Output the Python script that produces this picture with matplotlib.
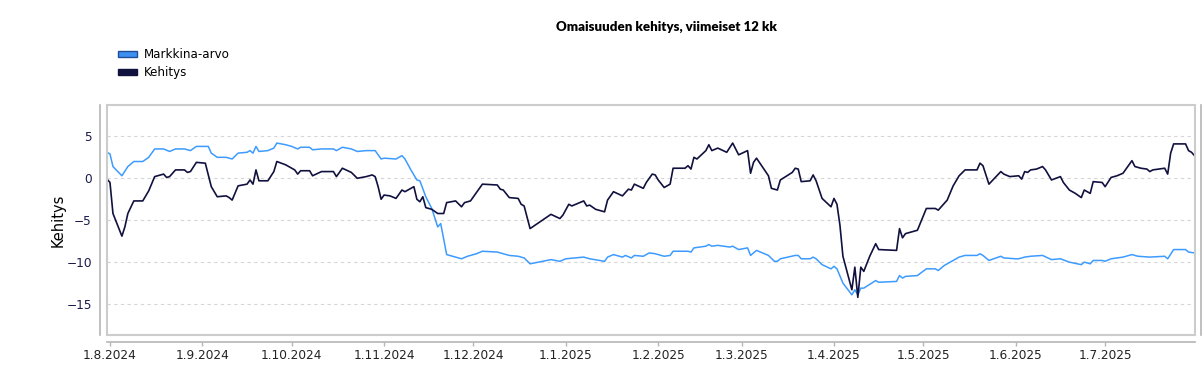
import matplotlib
matplotlib.use("Agg")
import matplotlib.pyplot as plt
import matplotlib.dates as mdates
from matplotlib.patches import Patch, Rectangle
import pandas as pd

# Aikasarjat: päivät laskettu alkupäivästä 1.8.2024, arvot kuvasta luettuna
alkupaiva = "2024-08-01"

kehitys_paivat = [-1, 0, 1, 4, 5, 6, 8, 11, 13, 15,
                  18, 19, 20, 22, 25, 26, 27, 29, 32, 34,
                  36, 39, 40, 41, 43, 46, 47, 48, 49, 50,
                  53, 55, 56, 59, 61, 62, 63, 64, 67, 68,
                  71, 75, 76, 78, 81, 83, 86, 88, 89, 90,
                  91, 92, 94, 96, 98, 99, 102, 103, 104, 105,
                  106, 108, 110, 112, 113, 116, 118, 119, 121, 123,
                  125, 130, 131, 132, 134, 137, 138, 139, 141, 148,
                  151, 152, 154, 155, 159, 160, 161, 163, 166, 167,
                  169, 172, 174, 175, 176, 179, 180, 182, 183, 184,
                  186, 188, 189, 193, 194, 195, 196, 197, 200, 201,
                  202, 204, 207, 209, 211, 214, 215, 216, 217, 221,
                  222, 224, 225, 229, 230, 231, 232, 235, 236, 237,
                  239, 242, 243, 244, 245, 246, 249, 250, 251, 252,
                  253, 255, 257, 258, 264, 265, 266, 267, 271, 274,
                  277, 278, 281, 283, 285, 287, 291, 292, 293, 295,
                  299, 300, 302, 305, 306, 307, 308, 309, 311, 313,
                  314, 316, 319, 320, 322, 324, 326, 327, 329, 330,
                  333, 334, 336, 338, 340, 341, 343, 344, 346, 348,
                  349, 350, 354, 355, 356, 357, 361, 362, 363, 364]
kehitys_arvot = [-0.1, -0.5, -4.2, -6.9, -5.8, -4.2, -2.7, -2.7, -1.5, 0.2,
                 0.5, 0.1, 0.2, 1.0, 1.0, 0.7, 0.8, 1.9, 1.8, -1.0,
                 -2.2, -2.1, -2.3, -2.6, -0.9, -0.7, -0.2, -0.7, 1.0, -0.3,
                 -0.3, 0.8, 2.0, 1.6, 1.2, 1.0, 0.5, 0.9, 0.9, 0.3,
                 0.8, 0.8, 0.2, 1.2, 0.7, 0.0, 0.2, 0.4, 0.2, -1.0,
                 -2.5, -2.0, -2.1, -2.4, -1.4, -1.6, -1.0, -2.5, -2.8, -2.2,
                 -3.5, -3.7, -4.2, -4.2, -2.9, -2.7, -3.4, -2.9, -2.7, -1.7,
                 -0.7, -0.8, -1.3, -1.4, -2.3, -2.4, -3.1, -3.3, -6.0, -4.3,
                 -4.8, -4.4, -3.1, -3.3, -2.7, -3.3, -3.2, -3.7, -4.0, -2.6,
                 -1.6, -2.1, -1.3, -1.4, -0.7, -1.2, -0.5, 0.5, 0.4, -0.2,
                 -1.1, -0.7, 1.2, 1.2, 1.5, 1.1, 2.5, 2.3, 3.3, 4.0,
                 3.3, 3.6, 3.1, 4.2, 2.8, 3.3, 0.6, 1.9, 2.4, 0.3,
                 -1.2, -1.4, -0.2, 0.7, 1.2, 1.1, -0.4, -0.3, 0.4, -0.3,
                 -2.4, -3.4, -2.4, -3.1, -5.6, -9.3, -13.3, -10.6, -14.2, -10.6,
                 -11.1, -9.3, -7.8, -8.5, -8.6, -6.0, -7.1, -6.6, -6.2, -3.6,
                 -3.6, -3.8, -2.6, -0.9, 0.3, 1.0, 1.0, 1.8, 1.5, -0.7,
                 0.8, 0.5, 0.2, 0.3, -0.1, 0.8, 0.7, 1.0, 1.1, 1.4,
                 1.0, -0.2, 0.2, -0.5, -1.4, -1.8, -2.3, -1.4, -1.8, -0.4,
                 -0.5, -1.0, 0.1, 0.3, 0.6, 1.1, 2.1, 1.4, 1.2, 1.1,
                 0.8, 1.0, 1.2, 0.5, 3.0, 4.1, 4.1, 3.3, 3.1, 2.7]

markkina_paivat = [-1, 0, 1, 4, 6, 8, 11, 13, 15, 18,
                   20, 22, 25, 27, 29, 33, 34, 36, 39, 41,
                   43, 46, 47, 48, 49, 50, 53, 55, 56, 59,
                   61, 63, 64, 67, 68, 71, 75, 76, 78, 81,
                   83, 86, 89, 90, 91, 92, 96, 98, 99, 101,
                   103, 104, 106, 108, 110, 111, 113, 115, 118, 120,
                   123, 125, 130, 132, 134, 137, 139, 141, 148, 151,
                   153, 159, 161, 166, 167, 169, 172, 173, 175, 176,
                   179, 181, 183, 186, 188, 189, 194, 195, 196, 200,
                   201, 202, 204, 208, 209, 211, 214, 215, 217, 221,
                   223, 224, 225, 230, 231, 232, 235, 236, 237, 239,
                   242, 243, 244, 246, 249, 250, 251, 252, 253, 257,
                   258, 264, 265, 266, 267, 271, 274, 277, 278, 280,
                   285, 287, 291, 292, 293, 295, 299, 300, 304, 305,
                   307, 309, 313, 316, 319, 322, 326, 327, 329, 330,
                   333, 334, 336, 340, 343, 345, 349, 354, 355, 357,
                   361, 362, 364]
markkina_arvot = [3.1, 2.9, 1.4, 0.3, 1.4, 2.0, 2.0, 2.5, 3.5, 3.5,
                  3.2, 3.5, 3.5, 3.3, 3.8, 3.8, 3.0, 2.5, 2.5, 2.3,
                  3.0, 3.1, 3.3, 3.0, 3.8, 3.2, 3.3, 3.6, 4.2, 4.0,
                  3.8, 3.5, 3.7, 3.7, 3.4, 3.5, 3.5, 3.3, 3.7, 3.5,
                  3.2, 3.3, 3.3, 2.8, 2.3, 2.4, 2.3, 2.7, 2.3, 1.0,
                  -0.2, -0.3, -2.2, -3.6, -5.8, -5.4, -9.1, -9.3, -9.6, -9.3,
                  -9.0, -8.7, -8.8, -9.0, -9.2, -9.3, -9.5, -10.2, -9.7, -9.9,
                  -9.6, -9.4, -9.6, -9.9, -9.4, -9.1, -9.4, -9.2, -9.5, -9.2,
                  -9.3, -8.9, -9.0, -9.3, -9.2, -8.7, -8.7, -8.8, -8.3, -8.1,
                  -7.9, -8.1, -8.0, -8.2, -8.1, -8.5, -8.3, -9.2, -8.6, -9.2,
                  -9.9, -9.9, -9.6, -9.2, -9.2, -9.6, -9.6, -9.4, -9.6, -10.3,
                  -10.8, -10.5, -10.8, -12.5, -13.9, -13.3, -13.9, -13.1, -13.1, -12.2,
                  -12.4, -12.3, -11.6, -11.9, -11.7, -11.6, -10.8, -10.8, -11.0, -10.4,
                  -9.4, -9.2, -9.2, -9.0, -9.2, -9.8, -9.3, -9.5, -9.6, -9.6,
                  -9.4, -9.3, -9.2, -9.7, -9.6, -10.0, -10.3, -10.0, -10.2, -9.8,
                  -9.8, -9.9, -9.6, -9.4, -9.1, -9.3, -9.4, -9.3, -9.6, -8.5,
                  -8.5, -8.8, -8.9]

y_tikit = [-15, -10, -5, 0, 5]

vari_markkina = "#3d9bff"
vari_kehitys = "#11113f"

alku = pd.Timestamp(alkupaiva)
kehitys_pvm = alku + pd.to_timedelta(kehitys_paivat, unit="D")
markkina_pvm = alku + pd.to_timedelta(markkina_paivat, unit="D")

fig = plt.figure(figsize=(12.02, 3.71), dpi=100)
ax = fig.add_axes([107 / 1202, 36 / 371, 1087.5 / 1202, 230 / 371])

ax.plot(markkina_pvm, markkina_arvot, color=vari_markkina, lw=1.1, zorder=3)
ax.plot(kehitys_pvm, kehitys_arvot, color=vari_kehitys, lw=1.2, zorder=4)

ax.set_xlim(kehitys_pvm[0], kehitys_pvm[-1])
ax.set_ylim(-18.69, 8.74)
ax.set_yticks(y_tikit)
ax.grid(axis="y", linestyle=(0, (3, 3)), color="#d6d6d6", lw=0.8)
ax.set_axisbelow(True)

# kehys ja erilliset akselit
for s in ax.spines.values():
    s.set_visible(False)
ax.add_patch(Rectangle((0, 0), 1, 1, transform=ax.transAxes, fill=False,
                       edgecolor="#cccccc", lw=1.5, zorder=5, clip_on=False))
ax.spines["left"].set_visible(True)
ax.spines["left"].set_position(("outward", 5))
ax.spines["left"].set_color("#b5b5b5")
ax.spines["left"].set_linewidth(1.2)
ax.spines["bottom"].set_visible(True)
ax.spines["bottom"].set_position(("outward", 5))
ax.spines["bottom"].set_color("#b5b5b5")
ax.spines["bottom"].set_linewidth(1.2)

ax.xaxis.set_major_locator(mdates.MonthLocator())
ax.xaxis.set_major_formatter(plt.FuncFormatter(
    lambda v, p: "{0.day}.{0.month}.{0.year}".format(mdates.num2date(v))))
ax.tick_params(axis="x", length=3, width=1, color="#b5b5b5", pad=2,
               labelsize=8.7, labelcolor="#222222")
ax.tick_params(axis="y", length=0, pad=6, labelsize=8.7, labelcolor="#1a1a4d")

ax.set_ylabel("Kehitys", fontsize=10.5, color="black")
ax.yaxis.set_label_coords(-0.0385, 0.5)

# oikea (leikkautunut) akseli
ax2 = ax.twinx()
for s in ax2.spines.values():
    s.set_visible(False)
ax2.spines["right"].set_visible(True)
ax2.spines["right"].set_position(("outward", 4.6))
ax2.spines["right"].set_color("#b5b5b5")
ax2.spines["right"].set_linewidth(1.2)
ax2.set_ylim(-0.06, 8.07)
ax2.set_yticks(range(8))
ax2.tick_params(axis="y", length=3, color="#b5b5b5", labelright=False)

fig.text(666 / 1202, 1 - 27 / 371, "Omaisuuden kehitys, viimeiset 12 kk",
         ha="center", va="center", fontsize=9.5, fontweight="heavy",
         family="Lato")

kahvat = [Patch(facecolor="#3d8ff0", edgecolor="#1f4f99", lw=1.0),
          Patch(facecolor=vari_kehitys, edgecolor=vari_kehitys, lw=1.0)]
fig.legend(kahvat, ["Markkina-arvo", "Kehitys"], loc="upper left",
           bbox_to_anchor=(118 / 1202, 1 - 48.5 / 371), frameon=False,
           fontsize=8.6, handlelength=1.6, handleheight=0.45,
           handletextpad=0.6, labelspacing=0.38, borderpad=0,
           borderaxespad=0)

fig.savefig("out.png", dpi=100)
